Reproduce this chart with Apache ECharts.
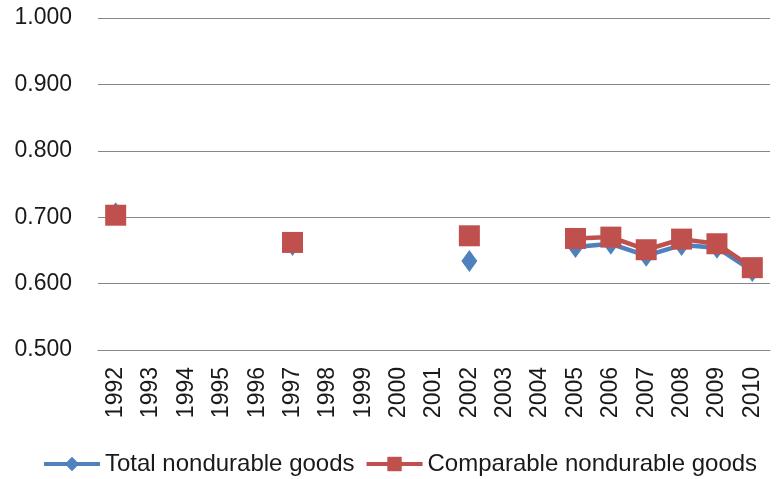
<!DOCTYPE html>
<html>
<head>
<meta charset="utf-8">
<script src="https://cdn.jsdelivr.net/npm/echarts@6/dist/echarts.min.js"></script>
<style>html,body{margin:0;padding:0;background:#fff}#c{width:781px;height:479px}</style>
</head>
<body>
<div id="c"></div>
<script>
var years = ['1992','1993','1994','1995','1996','1997','1998','1999','2000','2001','2002','2003','2004','2005','2006','2007','2008','2009','2010'];
var totalNondurable = [0.706,null,null,null,null,0.658,null,null,null,null,0.634,null,null,0.655,0.660,0.642,0.658,0.654,0.619];
var comparableNondurable = [0.703,null,null,null,null,0.662,null,null,null,null,0.672,null,null,0.668,0.670,0.651,0.667,0.660,0.624];
var yMin = 0.5, yMax = 1.0, yStep = 0.1;

var font = 'Liberation Sans';
var chart = echarts.init(document.getElementById('c'), null, {renderer:'canvas'});
chart.setOption({
  animation: false,
  backgroundColor: '#fff',
  grid: {left: 98, right: 11, top: 18, bottom: 129, containLabel: false},
  legend: {
    top: 447, left: 37,
    itemWidth: 56, itemHeight: 18, itemGap: 10,
    lineStyle: {width: 4},
    textStyle: {fontFamily: font, fontSize: 24, color: '#1a1a1a'},
    data: ['Total nondurable goods','Comparable nondurable goods']
  },
  xAxis: {
    type: 'category', data: years, boundaryGap: true,
    axisLine: {lineStyle: {color: '#868686', width: 1}},
    axisTick: {show: false},
    axisLabel: {rotate: 90, interval: 0, margin: 17, fontFamily: font, fontSize: 23, color: '#1a1a1a'}
  },
  yAxis: {
    type: 'value', min: yMin, max: yMax, interval: yStep,
    axisLine: {show: false}, axisTick: {show: false},
    axisLabel: {margin: 26, fontFamily: font, fontSize: 23, color: '#1a1a1a', formatter: function(v){return v.toFixed(3);}},
    splitLine: {lineStyle: {color: '#868686', width: 1}}
  },
  series: [
    {
      name: 'Total nondurable goods', type: 'line', data: totalNondurable, connectNulls: false,
      symbol: 'diamond', symbolSize: [16, 22],
      itemStyle: {color: '#4F81BD'}, lineStyle: {color: '#4F81BD', width: 4.5}
    },
    {
      name: 'Comparable nondurable goods', type: 'line', data: comparableNondurable, connectNulls: false,
      symbol: 'rect', symbolSize: 21,
      itemStyle: {color: '#C0504D'}, lineStyle: {color: '#C0504D', width: 4.5}
    }
  ]
});
</script>
</body>
</html>
